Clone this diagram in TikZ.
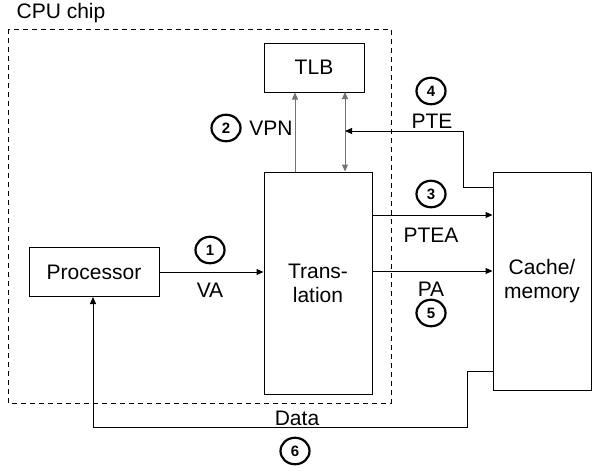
\documentclass[tikz,border=0pt]{standalone}
\usepackage{fontspec}
\setmainfont{Liberation Sans}
\usetikzlibrary{arrows.meta,shapes.geometric}
\begin{document}
\begin{tikzpicture}[x=1pt,y=-1pt,
  every node/.style={font=\fontsize{21}{24}\selectfont, inner sep=0pt},
  blk/.style={draw=black, line width=1pt, rectangle},
  conn/.style={line width=1pt, -{Triangle[length=7pt,width=6pt]}},
  grayconn/.style={conn, draw=black!55},
  num/.style={ellipse, draw=black, line width=2.2pt, minimum width=29pt, minimum height=26.5pt, inner sep=0pt, font=\fontsize{15}{15}\selectfont\bfseries},
  lbl/.style={align=center}]
\useasboundingbox (0,0) rectangle (604,471);
% CPU chip
\draw[line width=1pt, dash pattern=on 5pt off 4pt] (8,29) rectangle (391,403);
\node[anchor=center] (cpu) at (61,13) {CPU chip};
% blocks
\node[blk, minimum width=100pt, minimum height=49pt] (tlb) at (314,67.5) {TLB};
\node[blk, minimum width=108pt, minimum height=222pt, lbl] (tr) at (318,283) {Trans-\\lation};
\node[blk, minimum width=130pt, minimum height=49pt] (proc) at (94,272) {Processor};
\node[blk, minimum width=98pt, minimum height=218pt, lbl] (mem) at (542,281) {Cache/\\memory};
% coordinates
\coordinate (pteA) at (493,187);
\coordinate (pteB) at (463,187);
\coordinate (pteC) at (463,131);
\coordinate (pteD) at (345,131);
\coordinate (datA) at (493,371);
\coordinate (datB) at (467,371);
\coordinate (datC) at (467,427);
\coordinate (datD) at (93,427);
% VA
\draw[conn] (proc.east |- 0,272) -- (tr.west |- 0,272);
\node[num] (n1) at (210,250) {1};
\node (va) at (210,290) {VA};
% VPN
\draw[grayconn] (295,172) coordinate (vpnA) -- (vpnA |- tlb.south);
\node[num] (n2) at (226,128) {2};
\node (vpn) at (271,128) {VPN};
% TLB <-> translation
\draw[grayconn, {Triangle[length=7pt,width=6pt]}-{Triangle[length=7pt,width=6pt]}] (345,92) coordinate (dbA) -- (dbA |- tr.north);
% PTE
\draw[conn] (pteA) -- (pteB) -- (pteC) -- (pteD);
\node[num] (n4) at (431,91) {4};
\node (pte) at (432,121) {PTE};
% PTEA
\draw[conn] (tr.east |- 0,215) -- (mem.west |- 0,215);
\node[num] (n3) at (431,194) {3};
\node (ptea) at (431,235) {PTEA};
% PA
\draw[conn] (tr.east |- 0,271) -- (mem.west |- 0,271);
\node (pa) at (431,289) {PA};
\node[num] (n5) at (431,313) {5};
% Data
\draw[conn] (datA) -- (datB) -- (datC) -- (datD) -- (proc.south -| datD);
\node (data) at (297,418) {Data};
\node[num] (n6) at (295,451) {6};
\end{tikzpicture}
\end{document}
